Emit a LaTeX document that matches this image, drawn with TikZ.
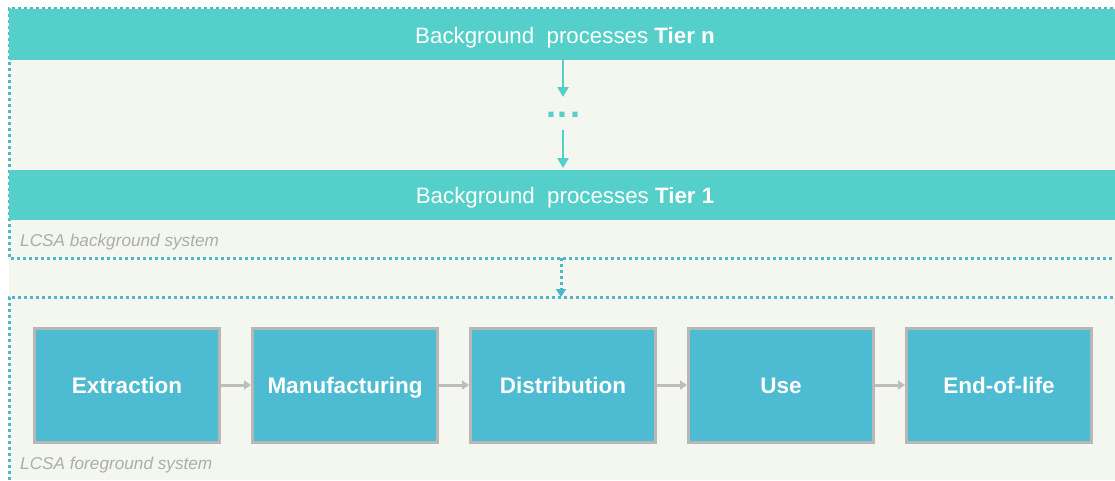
\documentclass[tikz,border=0pt]{standalone}
\usepackage{fontspec}
\setmainfont{Liberation Sans}
\usetikzlibrary{arrows.meta}

\definecolor{paper}{HTML}{F3F7F0}
\definecolor{band}{HTML}{55CFC9}
\definecolor{stage}{HTML}{4DBBD1}
\definecolor{stageedge}{HTML}{B7B7B7}
\definecolor{frame}{HTML}{4DB6C9}
\definecolor{flowgray}{HTML}{BDBDBD}
\definecolor{caption}{HTML}{ADADAD}

\tikzset{
  systemframe/.style={draw=frame, line width=3pt, dash pattern=on 3pt off 3pt},
  bandbox/.style={fill=band, draw=none},
  bandtext/.style={text=white, font=\fontsize{22.3}{26}\selectfont, inner sep=0pt, anchor=base},
  stagebox/.style={fill=stage, draw=stageedge, line width=3pt,
    minimum width=185pt, minimum height=114pt, inner sep=0pt,
    text height=16pt, text depth=0pt,
    text=white, font=\bfseries\fontsize{22.5}{26}\selectfont},
  tierarrow/.style={draw=band, line width=2.8pt, -{Triangle[length=10pt,width=11pt]}},
  flowarrow/.style={draw=flowgray, line width=3pt, -{Triangle[length=7pt,width=9pt]}},
  syscaption/.style={text=caption, font=\itshape\fontsize{17.2}{20}\selectfont, inner sep=0pt, anchor=base west},
}

\begin{document}
\begin{tikzpicture}[x=1pt, y=-1pt]
  \useasboundingbox (0,0) rectangle (1115,480);
  \fill[white] (0,0) rectangle (1115,480);
  \fill[paper] (9,8) rectangle (1115,480);

  % background system frame and tier bands
  \draw[systemframe] (1125,8) -- (9,8) -- (9,258) -- (1125,258);
  \fill[bandbox] (9,9) rectangle (1115,60);
  \fill[bandbox] (9,170) rectangle (1115,220);
  \node[bandtext] (tiern) at (565,43) {Background\ \ processes \textbf{Tier n}};
  \node[bandtext] (tier1) at (565,203) {Background\ \ processes \textbf{Tier 1}};

  \coordinate (tiernbot) at (563,60);
  \coordinate (tier1top) at (563,168);
  \node[text=band, font=\bfseries\fontsize{36}{36}\selectfont, inner sep=0pt, anchor=base] (dots) at (563,117) {.\kern2pt.\kern2pt.};
  \coordinate (dotsup) at (563,97);
  \coordinate (dotsdown) at (563,130);
  \draw[tierarrow] (tiernbot) -- (dotsup);
  \draw[tierarrow] (dotsdown) -- (tier1top);

  \node[syscaption] (bgcap) at (20,246) {LCSA background system};

  % foreground system frame
  \draw[systemframe] (1125,297) -- (9,297) -- (9,490);
  \coordinate (bgout) at (561,258);
  \coordinate (fgin) at (561,297);
  \draw[systemframe, -{Triangle[length=8pt,width=10pt]}] (bgout) -- (fgin);

  % life cycle stages
  \node[stagebox] (extr) at (127,385) {Extraction};
  \node[stagebox] (manu) at (345,385) {Manufacturing};
  \node[stagebox] (dist) at (563,385) {Distribution};
  \node[stagebox] (use)  at (781,385) {Use};
  \node[stagebox] (eol)  at (999,385) {End-of-life};

  \draw[flowarrow] (extr.east) -- (manu.west);
  \draw[flowarrow] (manu.east) -- (dist.west);
  \draw[flowarrow] (dist.east) -- (use.west);
  \draw[flowarrow] (use.east) -- (eol.west);

  \node[syscaption] (fgcap) at (20,469) {LCSA foreground system};
\end{tikzpicture}
\end{document}
